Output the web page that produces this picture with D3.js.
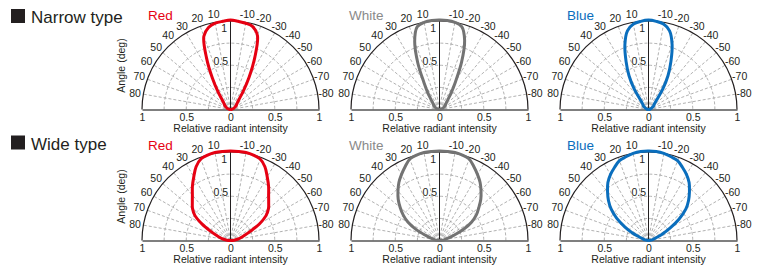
<!DOCTYPE html>
<html>
<head>
<meta charset="utf-8">
<script src="https://cdnjs.cloudflare.com/ajax/libs/d3/7.8.5/d3.min.js"></script>
<style>
  body { margin: 0; background: #fff; }
  text { font-family: "Liberation Sans", Arial, Helvetica, sans-serif; fill: #231f20; }
</style>
</head>
<body>
<svg id="chart" width="763" height="271"></svg>
<script>
// beam angle in degrees, +90 is the left end of the base line
var angles = [-90,-85,-80,-75,-70,-65,-60,-55,-50,-45,-40,-35,-30,-25,-20,-15,-10,-5,0,
              5,10,15,20,25,30,35,40,45,50,55,60,65,70,75,80,85,90];

// relative radiant intensity, one value per angle
var redNarrow   = [0,.01,.02,.03,.04,.05,.06,.08,.09,.11,.15,.25,.42,.65,.89,.97,.99,1.0,1.01,
                   1.0,.99,.96,.88,.64,.41,.25,.15,.11,.09,.08,.06,.05,.04,.03,.02,.01,0];
var whiteNarrow = [0,.01,.02,.03,.04,.05,.06,.08,.09,.11,.15,.23,.36,.59,.83,.97,1.0,1.01,1.01,
                   1.01,1.0,.97,.82,.58,.35,.23,.15,.11,.09,.08,.06,.05,.04,.03,.02,.01,0];
var blueNarrow  = [0,.01,.015,.02,.03,.04,.05,.07,.08,.10,.15,.28,.44,.60,.78,.92,.98,1.0,1.01,
                   1.0,.98,.92,.78,.60,.44,.28,.14,.10,.08,.07,.05,.04,.03,.02,.015,.01,0];
var redWide     = [0,.04,.08,.12,.17,.25,.38,.49,.56,.61,.67,.75,.83,.92,.98,1.0,1.01,1.01,1.01,
                   1.01,1.01,1.0,.98,.92,.83,.75,.67,.61,.56,.49,.37,.25,.17,.12,.08,.04,0];
var whiteWide   = [0,.03,.06,.10,.17,.30,.42,.51,.58,.66,.73,.80,.86,.92,.98,1.0,1.01,1.01,1.01,
                   1.01,1.01,1.0,.98,.92,.86,.80,.73,.66,.58,.50,.41,.29,.16,.10,.06,.03,0];
var blueWide    = [0,.02,.04,.06,.09,.17,.28,.42,.55,.64,.72,.80,.86,.91,.96,.98,1.0,1.01,1.01,
                   1.01,1.0,.98,.96,.91,.86,.80,.72,.64,.55,.44,.31,.20,.10,.06,.04,.02,0];

var rowTitles = ["Narrow type", "Wide type"];
var colNames = ["Red", "White", "Blue"];
var colColors = ["#e60012", "#737373", "#0a6ebd"];
var nameColors = ["#e60012", "#8a8a8a", "#0a6ebd"];
var series = [[redNarrow, whiteNarrow, blueNarrow], [redWide, whiteWide, blueWide]];

var angleTicks = [80,70,60,50,40,30,20,10,-10,-20,-30,-40,-50,-60,-70,-80];
var spokeAngles = [-80,-70,-60,-50,-40,-30,-20,-10,10,20,30,40,50,60,70,80];
var gridRings = [0.25, 0.5, 0.75];
var ringLabels = [0.5, 1];
var intensityTicks = [-1, -0.5, 0, 0.5, 1];

var svg = d3.select("#chart");

var R = 88.5;
var colX = [230.5, 439.5, 648.5];
var rowY = [109.5, 240.5];
var titleY = [23, 149.5];
var nameX = [-82.5, -90.5, -81.5];

var rScale = d3.scaleLinear().domain([0, 1]).range([0, R]);

function rad(deg) { return -deg * Math.PI / 180; }

(function main() {
  for (var i = 0; i < rowTitles.length; i++) {
    drawTitle(i);
    for (var j = 0; j < colNames.length; j++) {
      drawPolar(i, j);
    }
  }
})();

function drawTitle(i) {
  svg.append("rect")
    .attr("x", 11).attr("y", titleY[i] - 14)
    .attr("width", 14).attr("height", 14)
    .attr("fill", "#231f20");
  svg.append("text")
    .attr("x", 31).attr("y", titleY[i])
    .style("font-size", "17px")
    .text(rowTitles[i]);
}

function drawPolar(i, j) {
  var cx = colX[j], cy = rowY[i];
  var g = svg.append("g").attr("transform", "translate(" + cx + "," + cy + ")");

  // dashed rings
  gridRings.forEach(function(v) {
    var p = d3.path();
    p.arc(0, 0, rScale(v), Math.PI, 2 * Math.PI);
    g.append("path").attr("d", p.toString())
      .attr("fill", "none").attr("stroke", "#9d9d9d")
      .attr("stroke-width", 0.8).attr("stroke-dasharray", "3,2");
  });

  // dashed spokes
  g.selectAll(".spoke").data(spokeAngles).enter().append("line")
    .attr("x1", 0).attr("y1", 0)
    .attr("x2", function(d) { return rScale(1) * Math.sin(rad(d)); })
    .attr("y2", function(d) { return -rScale(1) * Math.cos(rad(d)); })
    .attr("stroke", "#9d9d9d").attr("stroke-width", 0.8)
    .attr("stroke-dasharray", "3,2");

  // outer arc
  var outer = d3.path();
  outer.arc(0, 0, rScale(1), Math.PI, 2 * Math.PI);
  g.append("path").attr("d", outer.toString())
    .attr("fill", "none").attr("stroke", "#231f20").attr("stroke-width", 1.2);

  // centre line
  g.append("line").attr("x1", 0).attr("y1", 0).attr("x2", 0).attr("y2", -rScale(1))
    .attr("stroke", "#231f20").attr("stroke-width", 1);

  // base line with intensity ticks
  var x = d3.scaleLinear().domain([-1, 1]).range([-R, R]);
  var axis = g.append("g")
    .call(d3.axisBottom(x).tickValues(intensityTicks).tickSize(0).tickPadding(3)
      .tickFormat(function(d) { return String(Math.abs(d)); }));
  axis.select(".domain").attr("stroke", "#555").attr("stroke-width", 1.6);
  axis.selectAll("text")
    .attr("y", 11).attr("dy", null)
    .style("font-size", "10.5px")
    .style("font-family", "'Liberation Sans', Arial, sans-serif")
    .attr("fill", "#231f20");

  g.append("text")
    .attr("x", 0).attr("y", 22)
    .attr("text-anchor", "middle")
    .style("font-size", "10.5px")
    .text("Relative radiant intensity");

  // ring labels
  g.selectAll(".ringlab").data(ringLabels).enter().append("text")
    .attr("x", function(d) { return d === 1 ? -3.5 : -2.5; })
    .attr("y", function(d) { return -rScale(d) + (d === 1 ? 11 : 0); })
    .attr("text-anchor", "end")
    .style("font-size", "10.5px")
    .text(function(d) { return String(d); });

  // angle labels
  g.selectAll(".anglab").data(angleTicks).enter().append("text")
    .attr("x", function(d) { return (R + 8.5) * Math.sin(rad(d)); })
    .attr("y", function(d) { return -(R + 8.5) * Math.cos(rad(d)); })
    .attr("text-anchor", "middle")
    .attr("dominant-baseline", "central")
    .style("font-size", "10.5px")
    .text(function(d) { return String(d); });

  if (j === 0) {
    g.append("text")
      .attr("transform", "translate(" + (-110) + "," + (-44) + ") rotate(-90)")
      .attr("text-anchor", "middle")
      .attr("dominant-baseline", "central")
      .style("font-size", "10.5px")
      .text("Angle (deg)");
  }

  // series name
  g.append("text")
    .attr("x", nameX[j]).attr("y", titleY[i] - cy + (i === 0 ? -3 : 0))
    .style("font-size", "13.5px")
    .style("fill", nameColors[j])
    .text(colNames[j]);

  // radiation pattern
  var vals = series[i][j];
  var pts = angles.map(function(a, k) { return [rad(a), rScale(vals[k])]; });
  var line = d3.lineRadial()
    .angle(function(d) { return d[0]; })
    .radius(function(d) { return d[1]; })
    .curve(d3.curveCatmullRom.alpha(0.5));
  g.append("path")
    .attr("d", line(pts))
    .attr("fill", "none")
    .attr("stroke", colColors[j])
    .attr("stroke-width", 3)
    .attr("stroke-linejoin", "round");
}
</script>
</body>
</html>
